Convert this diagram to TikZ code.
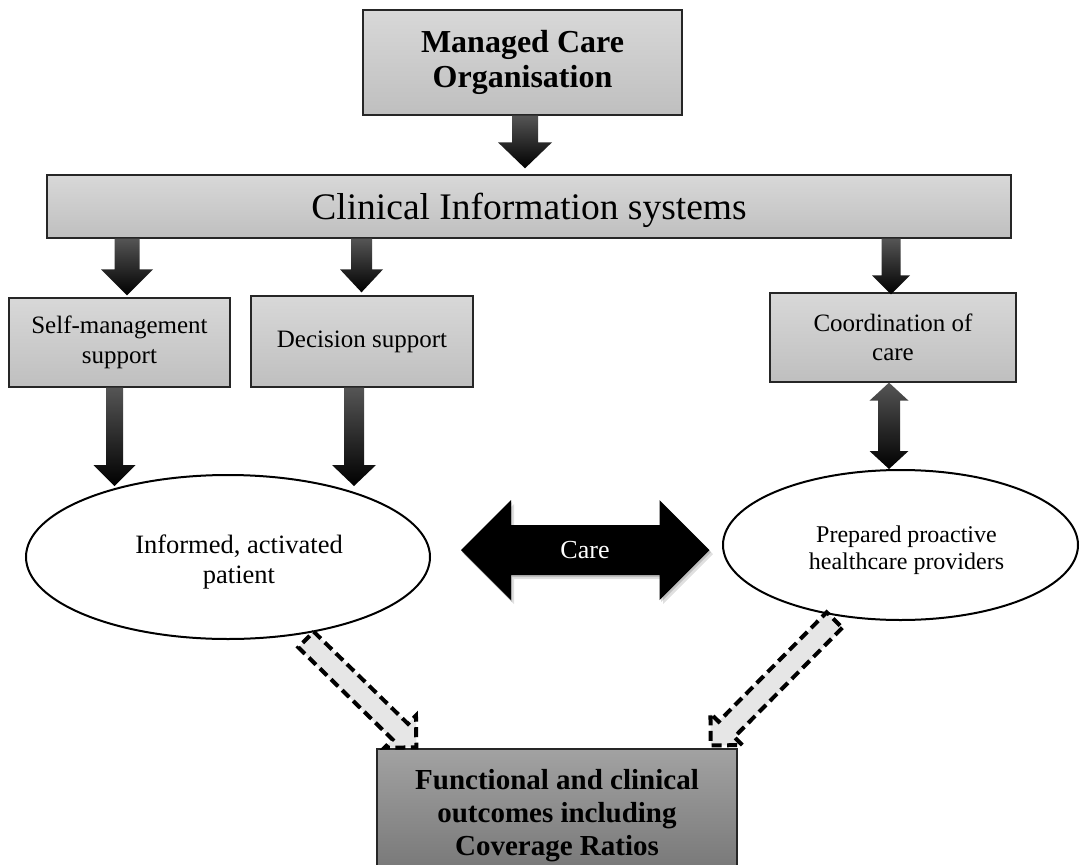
\documentclass[tikz,border=0pt]{standalone}
\usepackage{fontspec}
\setmainfont{Liberation Serif}
\usetikzlibrary{calc,shapes.geometric}

\definecolor{boxtop}{HTML}{D8D8D8}
\definecolor{boxbot}{HTML}{BFBFBF}
\definecolor{outtop}{HTML}{A2A2A2}
\definecolor{outbot}{HTML}{747474}
\definecolor{shafttop}{HTML}{555555}
\definecolor{hollow}{HTML}{E6E6E6}

\tikzset{
  greybox/.style={rectangle, draw=black!85, line width=1.3pt, top color=boxtop,
    bottom color=boxbot, inner sep=0pt, align=center},
  outbox/.style={greybox, top color=outtop, bottom color=outbot},
  oval/.style={ellipse, draw=black, line width=2pt, fill=white, inner sep=0pt},
  blockfill/.style={top color=shafttop, bottom color=black},
  hollowarrow/.style={fill=hollow, draw=black, line width=4pt,
    dash pattern=on 10pt off 5.5pt, line join=miter},
}

% solid block arrow pointing down: start, tip, shaft half width, head half width, head length
\newcommand\blockdown[5]{%
  \shade[blockfill] let \p1=#1, \p2=#2 in
    (\x1-#3,\y1) -- (\x1+#3,\y1) -- (\x1+#3,\y2+#5) -- (\x1+#4,\y2+#5)
    -- (\x1,\y2) -- (\x1-#4,\y2+#5) -- (\x1-#3,\y2+#5) -- cycle;}

% solid block arrow with heads at both ends, vertical
\newcommand\blockupdown[5]{%
  \shade[blockfill] let \p1=#1, \p2=#2 in
    (\x1,\y1) -- (\x1+#4,\y1-#5) -- (\x1+#3,\y1-#5) -- (\x1+#3,\y2+#5)
    -- (\x1+#4,\y2+#5) -- (\x1,\y2) -- (\x1-#4,\y2+#5) -- (\x1-#3,\y2+#5)
    -- (\x1-#3,\y1-#5) -- (\x1-#4,\y1-#5) -- cycle;}

% solid block arrow with heads at both ends, horizontal
\newcommand\blockleftright[6]{%
  \fill[#1] let \p1=#2, \p2=#3 in
    (\x1,\y1) -- (\x1+#6,\y1+#5) -- (\x1+#6,\y1+#4) -- (\x2-#6,\y1+#4)
    -- (\x2-#6,\y1+#5) -- (\x2,\y1) -- (\x2-#6,\y1-#5) -- (\x2-#6,\y1-#4)
    -- (\x1+#6,\y1-#4) -- (\x1+#6,\y1-#5) -- cycle;}

% light dashed block arrow from a tail point to a tip point
\newcommand\hollowblock[2]{%
  \coordinate (hb) at ($(#2)!22.5pt!(#1)$);
  \draw[hollowarrow]
    ($(#1)!11pt!90:(#2)$) -- ($(hb)!11pt!90:(#2)$) -- ($(hb)!22.5pt!90:(#2)$)
    -- (#2) -- ($(hb)!22.5pt!-90:(#2)$) -- ($(hb)!11pt!-90:(#2)$)
    -- ($(#1)!11pt!-90:(#2)$) -- cycle;}

\begin{document}
\begin{tikzpicture}[x=1pt,y=-1pt]
\clip (0,0) rectangle (1080,865);
\fill[white] (0,0) rectangle (1080,865);

% boxes
\node[greybox, minimum width=319pt, minimum height=105pt,
      font=\fontsize{32}{35}\selectfont\bfseries] (mco) at (522.5,62.5)
      {Managed Care\\Organisation};
\node[greybox, minimum width=964pt, minimum height=63pt, text depth=0pt,
      font=\fontsize{37.5}{40}\selectfont] (cis) at (529,206.5)
      {Clinical Information systems};
\node[greybox, minimum width=221pt, minimum height=89pt,
      font=\fontsize{25}{29.5}\selectfont] (self) at (119.5,342.5)
      {Self-management\\support};
\node[greybox, minimum width=222pt, minimum height=91pt,
      font=\fontsize{25}{29.5}\selectfont] (dec) at (362,341.5)
      {Decision support};
\node[greybox, minimum width=246pt, minimum height=89pt,
      font=\fontsize{25}{29.5}\selectfont] (coord) at (893,337.5)
      {Coordination of\\care};

% ovals
\node[oval, minimum width=404pt, minimum height=164pt] (pat) at (228,557) {};
\node[font=\fontsize{26.5}{30}\selectfont, align=center] (pattxt) at (239,562)
      {Informed, activated\\patient};
\node[oval, minimum width=355pt, minimum height=150pt] (prov) at (900.5,545) {};
\node[font=\fontsize{24}{27}\selectfont, align=center] (provtxt) at (906.5,550)
      {Prepared proactive\\healthcare providers};

% outcomes
\node[outbox, minimum width=360pt, minimum height=134pt,
      font=\fontsize{29}{33}\selectfont\bfseries] (out) at (557,816)
      {Functional and clinical\\outcomes including\\Coverage Ratios};

% solid arrows
\blockdown{($(mco.south)+(2.5,0)$)}{($(cis.north)+(0,-6)$)}{13pt}{27pt}{26pt}
\blockdown{($(cis.south -| self.north)+(7.5,0)$)}{($(self.north)+(0,-2)$)}{12.5pt}{26pt}{26pt}
\blockdown{($(cis.south -| dec.north)+(-0.5,0)$)}{($(dec.north)+(0,-3)$)}{10.5pt}{21.5pt}{23pt}
\blockdown{($(cis.south -| coord.north)+(-2,0)$)}{($(coord.north)+(0,2)$)}{9.5pt}{19pt}{19pt}
\blockdown{($(self.south)+(-5,0)$)}{($(pat.north)+(0,12)$)}{8.5pt}{21pt}{21pt}
\blockdown{($(dec.south)+(-8,0)$)}{($(pat.north)+(0,12)$)}{10pt}{22pt}{21pt}
\blockupdown{($(coord.south)+(-4,0)$)}{(prov.north)}{11pt}{19.5pt}{18pt}

% care exchange
\blockleftright{black, opacity=0.12}{($(pat.east)+(33,-3)$)}{($(prov.west)+(-9,9)$)}{25pt}{50pt}{50pt}
\blockleftright{black, opacity=0.15}{($(pat.east)+(31,-5)$)}{($(prov.west)+(-11,7)$)}{25pt}{50pt}{50pt}
\blockleftright{black}{($(pat.east)+(30,-7)$)}{($(prov.west)+(-12.5,5)$)}{25pt}{50pt}{50pt}
\node[text=white, font=\fontsize{26}{30}\selectfont] (care) at (585,550) {Care};

% contributions to outcomes
\coordinate (ltail) at ($(pat.center)+(78,82.5)$);
\coordinate (ltip) at ($(out.north west)+(40,-1)$);
\coordinate (rtail) at ($(prov.center)+(-66,75)$);
\coordinate (rtip) at ($(out.north east)+(-27,-3)$);
\hollowblock{ltail}{ltip}
\hollowblock{rtail}{rtip}
\end{tikzpicture}
\end{document}
